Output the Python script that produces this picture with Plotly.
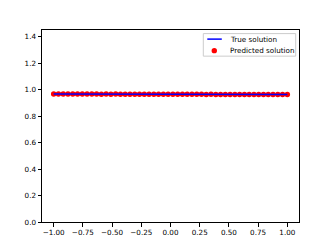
import plotly.graph_objects as go

# ---- data ----
x_points = [-1.0, -0.9592, -0.9184, -0.8776, -0.8367, -0.7959, -0.7551, -0.7143, -0.6735, -0.6327,
            -0.5918, -0.5510, -0.5102, -0.4694, -0.4286, -0.3878, -0.3469, -0.3061, -0.2653, -0.2245,
            -0.1837, -0.1429, -0.1020, -0.0612, -0.0204, 0.0204, 0.0612, 0.1020, 0.1429, 0.1837,
            0.2245, 0.2653, 0.3061, 0.3469, 0.3878, 0.4286, 0.4694, 0.5102, 0.5510, 0.5918,
            0.6327, 0.6735, 0.7143, 0.7551, 0.7959, 0.8367, 0.8776, 0.9184, 0.9592, 1.0]
true_values = [0.9660, 0.9659, 0.9659, 0.9658, 0.9657, 0.9656, 0.9656, 0.9655, 0.9654, 0.9653,
               0.9652, 0.9652, 0.9651, 0.9650, 0.9649, 0.9648, 0.9647, 0.9647, 0.9646, 0.9645,
               0.9644, 0.9643, 0.9642, 0.9641, 0.9640, 0.9640, 0.9639, 0.9638, 0.9637, 0.9636,
               0.9635, 0.9634, 0.9633, 0.9632, 0.9631, 0.9630, 0.9629, 0.9628, 0.9627, 0.9627,
               0.9626, 0.9625, 0.9624, 0.9623, 0.9622, 0.9622, 0.9621, 0.9621, 0.9620, 0.9620]
pred_values = [0.9658, 0.9661, 0.9657, 0.9660, 0.9655, 0.9658, 0.9654, 0.9657, 0.9652, 0.9655,
               0.9650, 0.9654, 0.9649, 0.9652, 0.9647, 0.9650, 0.9645, 0.9649, 0.9644, 0.9647,
               0.9642, 0.9645, 0.9640, 0.9643, 0.9639, 0.9642, 0.9637, 0.9640, 0.9635, 0.9638,
               0.9633, 0.9636, 0.9632, 0.9635, 0.9629, 0.9632, 0.9628, 0.9630, 0.9626, 0.9629,
               0.9624, 0.9627, 0.9623, 0.9625, 0.9621, 0.9624, 0.9619, 0.9622, 0.9618, 0.9621]
x_ticks = [-1.0, -0.75, -0.5, -0.25, 0.0, 0.25, 0.5, 0.75, 1.0]
x_tick_labels = ["\u22121.00", "\u22120.75", "\u22120.50", "\u22120.25", "0.00", "0.25", "0.50", "0.75", "1.00"]
y_ticks = [0.0, 0.2, 0.4, 0.6, 0.8, 1.0, 1.2, 1.4]
y_tick_labels = ["0.0", "0.2", "0.4", "0.6", "0.8", "1.0", "1.2", "1.4"]
legend_labels = ["True solution", "Predicted solution"]

FONT = "DejaVu Sans"
W, H = 332, 249
L, R, T, B = 41.5, 33.2, 29.9, 27.4
PW, PH = W - L - R, H - T - B


def px_x(p):
    return (p - L) / PW


def px_y(p):
    return (H - B - p) / PH


fig = go.Figure()
fig.add_trace(go.Scatter(x=x_points, y=pred_values, mode="markers",
                         marker=dict(color="#ff0000", size=5.5, line=dict(width=0)),
                         showlegend=False, hoverinfo="skip"))
fig.add_trace(go.Scatter(x=x_points, y=true_values, mode="lines",
                         line=dict(color="#0000ff", width=1.5),
                         showlegend=False, hoverinfo="skip"))

ymax = 1.5 * max(max(true_values), max(pred_values))

axis_common = dict(showline=True, linecolor="black", linewidth=1, mirror=True,
                   ticks="outside", ticklen=3.5, tickwidth=1, tickcolor="black",
                   showgrid=False, zeroline=False,
                   tickfont=dict(family=FONT, size=7.2, color="black"))

fig.update_layout(
    width=W, height=H, autosize=False,
    margin=dict(l=L, r=R, t=T, b=B, pad=0),
    paper_bgcolor="white", plot_bgcolor="white",
    font=dict(family=FONT, size=7.2, color="black"),
    xaxis=dict(range=[-1.1, 1.1], tickmode="array", tickvals=x_ticks, ticktext=x_tick_labels,
               **axis_common),
    yaxis=dict(range=[0, ymax], tickmode="array", tickvals=y_ticks, ticktext=y_tick_labels,
               **axis_common),
    showlegend=False,
)

# ---- manual legend (matplotlib style) ----
lx0, lx1, ly0, ly1 = 203.0, 295.5, 33.5, 56.0
fig.add_shape(type="rect", xref="paper", yref="paper",
              x0=px_x(lx0), x1=px_x(lx1), y0=px_y(ly1), y1=px_y(ly0),
              line=dict(color="#cccccc", width=1), fillcolor="rgba(255,255,255,0.8)", layer="above")
row1, row2 = 39.0, 50.5
fig.add_shape(type="line", xref="paper", yref="paper",
              x0=px_x(207), x1=px_x(221.5), y0=px_y(row1), y1=px_y(row1),
              line=dict(color="#0000ff", width=1.5), layer="above")
rx, ry = 2.7 / PW, 2.7 / PH
fig.add_shape(type="circle", xref="paper", yref="paper",
              x0=px_x(214) - rx, x1=px_x(214) + rx, y0=px_y(row2) - ry, y1=px_y(row2) + ry,
              line=dict(width=0), fillcolor="#ff0000", layer="above")
for lab, ry_ in zip(legend_labels, [row1, row2]):
    fig.add_annotation(xref="paper", yref="paper", x=px_x(227.5), y=px_y(ry_),
                       text=lab, showarrow=False, xanchor="left", yanchor="middle",
                       font=dict(family=FONT, size=7.2, color="black"))

fig.write_html("out.html", config={"displayModeBar": False},
               post_script="document.body.style.margin='0';document.body.style.padding='0';")
